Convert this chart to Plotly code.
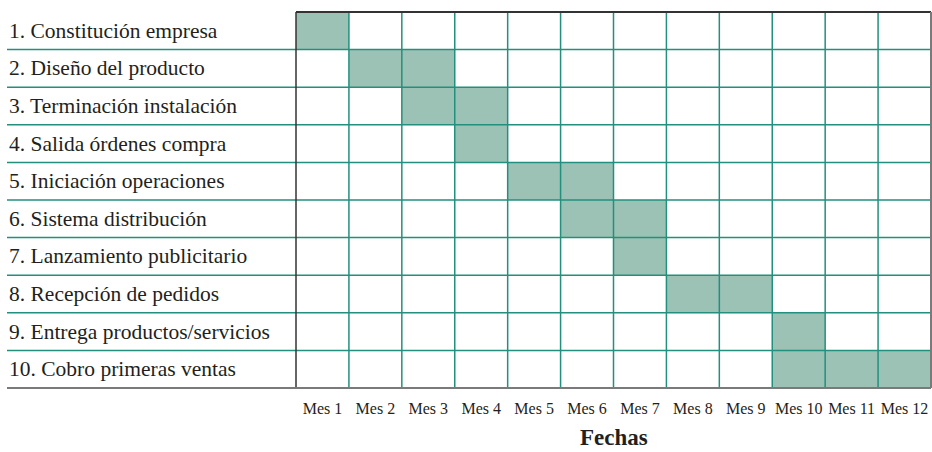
import plotly.graph_objects as go

tasks = [
    "1. Constitución empresa",
    "2. Diseño del producto",
    "3. Terminación instalación",
    "4. Salida órdenes compra",
    "5. Iniciación operaciones",
    "6. Sistema distribución",
    "7. Lanzamiento publicitario",
    "8. Recepción de pedidos",
    "9. Entrega productos/servicios",
    "10. Cobro primeras ventas",
]
months = ["Mes 1", "Mes 2", "Mes 3", "Mes 4", "Mes 5", "Mes 6",
          "Mes 7", "Mes 8", "Mes 9", "Mes 10", "Mes 11", "Mes 12"]
start_month = [1, 2, 3, 4, 5, 6, 7, 8, 10, 10]
duration = [1, 2, 2, 1, 2, 2, 1, 2, 1, 3]
x_title = "Fechas"

W, H = 932, 452
ML, MR, MT = 296, 1, 12
MB = H - 388
PW = W - ML - MR
PH = H - MT - MB
FILL = "#9cc2b6"
TEAL = "#22907d"
BLACK = "#333333"
GRAY = "#7a7a7a"
TXT = "#231f20"
SERIF = "Liberation Serif, Times New Roman, serif"

n_t = len(tasks)
n_m = len(months)
row_idx = list(range(n_t))

fig = go.Figure()
fig.add_trace(go.Bar(
    orientation="h",
    y=row_idx,
    x=duration,
    base=[s - 1 for s in start_month],
    width=1,
    marker=dict(color=FILL, line=dict(width=0)),
    hoverinfo="skip",
    showlegend=False,
))

label_left = (7 - ML) / PW
text_left = (7 - ML) / PW

shapes = []
for k in range(1, n_m):
    shapes.append(dict(type="line", xref="x", yref="paper", x0=k, x1=k, y0=0, y1=1,
                       line=dict(color=TEAL, width=1.5), layer="above"))
for i in range(n_t - 1):
    shapes.append(dict(type="line", xref="paper", yref="y", x0=label_left, x1=1,
                       y0=i + 0.5, y1=i + 0.5, line=dict(color=TEAL, width=1.5), layer="above"))
shapes.append(dict(type="line", xref="paper", yref="paper", x0=0, x1=1, y0=1, y1=1,
                   line=dict(color=BLACK, width=2), layer="above"))
shapes.append(dict(type="line", xref="paper", yref="paper", x0=0, x1=0, y0=0, y1=1,
                   line=dict(color=BLACK, width=1.5), layer="above"))
shapes.append(dict(type="line", xref="paper", yref="paper", x0=1, x1=1, y0=0, y1=1,
                   line=dict(color=GRAY, width=2), layer="above"))
shapes.append(dict(type="line", xref="paper", yref="paper", x0=label_left, x1=1, y0=0, y1=0,
                   line=dict(color=GRAY, width=2), layer="above"))

annotations = []
for i, t in enumerate(tasks):
    annotations.append(dict(xref="paper", yref="y", x=text_left, y=i, text=t,
                            xanchor="left", yanchor="middle", showarrow=False,
                            font=dict(family=SERIF, size=21.5, color=TXT)))
annotations.append(dict(xref="paper", yref="paper", x=0.5, y=-(451 - 388) / PH,
                        text="<b>" + x_title + "</b>", xanchor="center", yanchor="bottom",
                        showarrow=False, borderpad=0,
                        font=dict(family=SERIF, size=23, color=TXT)))

fig.update_layout(
    width=W, height=H,
    margin=dict(l=ML, r=MR, t=MT, b=MB, autoexpand=False),
    paper_bgcolor="white", plot_bgcolor="white",
    shapes=shapes, annotations=annotations,
    bargap=0,
    xaxis=dict(range=[0, n_m], tickmode="array",
               tickvals=[m + 0.5 for m in range(n_m)], ticktext=months,
               showgrid=False, zeroline=False, showline=False, ticks="",
               tickfont=dict(family=SERIF, size=16, color=TXT),
               ticklabelstandoff=9, automargin=False,
               fixedrange=True),
    yaxis=dict(range=[n_t - 0.5, -0.5], showticklabels=False, showgrid=False,
               zeroline=False, showline=False, ticks="", fixedrange=True,
               automargin=False),
)

fig.write_html(
    "out.html",
    config={"displayModeBar": False},
    post_script="document.body.style.margin='0';document.body.style.overflow='hidden';",
)
